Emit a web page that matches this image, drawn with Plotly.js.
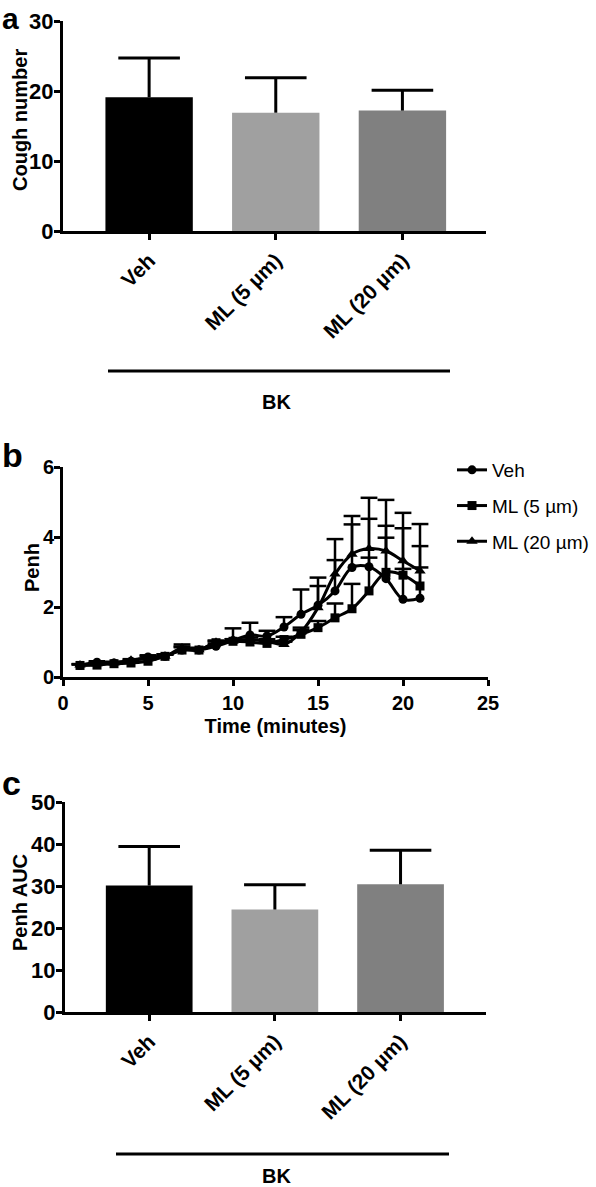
<!DOCTYPE html>
<html>
<head>
<meta charset="utf-8">
<script src="https://cdn.plot.ly/plotly-3.0.1.min.js"></script>
<style>html,body{margin:0;padding:0;background:#fff;}#chart{width:596px;height:1187px;}</style>
</head>
<body>
<div id="chart"></div>
<script>
// ---- Data ----
const groups = ["Veh", "ML (5 µm)", "ML (20 µm)"];
const groupColors = ["#000000", "#a0a0a0", "#808080"];

// Panel a: cough number
const coughMean = [19.1, 16.9, 17.2];
const coughErr  = [5.6, 5.0, 2.9];

// Panel b: Penh over time
const timeMin = [1,2,3,4,5,6,7,8,9,10,11,12,13,14,15,16,17,18,19,20,21];
const vehMean = [0.33,0.42,0.40,0.45,0.57,0.59,0.77,0.77,0.88,1.04,1.20,1.17,1.43,1.79,2.05,2.46,3.13,3.15,2.81,2.22,2.25];
const vehErr  = [0.03,0.03,0.03,0.04,0.05,0.06,0.08,0.06,0.08,0.35,0.35,0.15,0.28,0.71,0.79,0.88,1.23,1.37,1.17,0.87,0.88];
const ml5Mean = [0.33,0.34,0.38,0.40,0.45,0.59,0.77,0.77,0.98,1.02,1.00,0.96,1.07,1.22,1.41,1.69,1.95,2.46,2.99,2.91,2.60];
const ml5Err  = [0.03,0.03,0.03,0.03,0.05,0.05,0.10,0.05,0.05,0.06,0.06,0.06,0.08,0.12,0.19,0.41,0.71,0.95,1.33,1.34,1.14];
const ml20Mean = [0.34,0.38,0.40,0.48,0.55,0.59,0.83,0.78,0.99,1.02,1.07,1.02,0.93,1.28,1.98,2.94,3.51,3.67,3.60,3.32,3.03];
const ml20Err  = [0.03,0.03,0.03,0.03,0.05,0.05,0.10,0.05,0.05,0.06,0.06,0.06,0.08,0.13,0.62,1.00,1.09,1.45,1.46,1.37,1.34];

// Panel c: Penh AUC
const aucMean = [30.1, 24.4, 30.4];
const aucErr  = [9.3, 5.9, 8.1];

// ---- Helpers ----
const W = 596, H = 1187;
const px = v => v / W;
const py = v => 1 - v / H;
const zeros = n => new Array(n).fill(0);
const addArr = (a, b) => a.map((v, i) => v + b[i]);
const FONT = 'Liberation Sans, Arial, Helvetica, sans-serif';
const boldFont = (s) => ({family: FONT, size: s, color: '#000', weight: 700});

function barTrace(means, xa, ya) {
  return {
    type: 'bar', x: groups, y: means, xaxis: xa, yaxis: ya, width: 0.69,
    marker: {color: groupColors, line: {width: 0}},
    showlegend: false, hoverinfo: 'skip'
  };
}
// upper-only error bar: cap marker at mean+err, stem drawn downward to the mean
function upperErrTrace(xs, means, errs, xa, ya, capW, thick) {
  return {
    type: 'scatter', mode: 'markers', x: xs, y: addArr(means, errs), xaxis: xa, yaxis: ya,
    marker: {symbol: 'line-ew-open', size: capW, color: '#000', line: {color: '#000', width: thick}},
    error_y: {type: 'data', array: zeros(errs.length), arrayminus: errs, symmetric: false,
              color: '#000', thickness: thick, width: 0},
    showlegend: false, hoverinfo: 'skip'
  };
}
function lineTrace(name, means, symbol, msize) {
  return {
    type: 'scatter', mode: 'lines+markers', name: name, legendgroup: name,
    x: timeMin, y: means, xaxis: 'x2', yaxis: 'y2',
    line: {color: '#000', width: 3, shape: 'spline', smoothing: 1},
    marker: {symbol: symbol, size: msize, color: '#000'}
  };
}

const data = [
  barTrace(coughMean, 'x', 'y'),
  upperErrTrace(groups, coughMean, coughErr, 'x', 'y', 44, 3),
  upperErrTrace(timeMin, vehMean, vehErr, 'x2', 'y2', 12, 2.5),
  upperErrTrace(timeMin, ml5Mean, ml5Err, 'x2', 'y2', 12, 2.5),
  upperErrTrace(timeMin, ml20Mean, ml20Err, 'x2', 'y2', 12, 2.5),
  lineTrace(groups[0], vehMean, 'circle', 9),
  lineTrace(groups[1], ml5Mean, 'square', 9),
  lineTrace(groups[2], ml20Mean, 'triangle-up', 10),
  barTrace(aucMean, 'x3', 'y3'),
  upperErrTrace(groups, aucMean, aucErr, 'x3', 'y3', 44, 3)
];

const axCommon = {
  showline: true, linewidth: 3, linecolor: '#000', ticks: 'outside', ticklen: 6, tickwidth: 3,
  tickcolor: '#000', showgrid: false, zeroline: false, tickfont: boldFont(20), fixedrange: true
};
const yCommon = Object.assign({}, axCommon, {ticklabelstandoff: -4});

function yTitle(text, x, y) {
  return {text: text, xref: 'paper', yref: 'paper', x: px(x), y: py(y), xanchor: 'center', yanchor: 'middle',
          textangle: -90, showarrow: false, font: boldFont(20)};
}

const layout = {
  width: W, height: H, margin: {l: 0, r: 0, t: 0, b: 0},
  paper_bgcolor: '#fff', plot_bgcolor: '#fff',
  font: {family: FONT, size: 20, color: '#000'},
  showlegend: true,
  legend: {x: px(452), y: py(451), xanchor: 'left', yanchor: 'top',
           font: {family: FONT, size: 19, color: '#000', weight: 400},
           traceorder: 'grouped', tracegroupgap: 8, bgcolor: 'rgba(0,0,0,0)', itemwidth: 30},
  xaxis: Object.assign({}, axCommon, {domain: [px(63), px(486)], anchor: 'y', type: 'category',
          range: [-0.68, 2.66], tickangle: -45, tickfont: boldFont(21)}),
  yaxis: Object.assign({}, yCommon, {domain: [py(231), py(21)], anchor: 'x', range: [0, 30],
          tickvals: [0, 10, 20, 30], tickfont: boldFont(22)}),
  xaxis2: Object.assign({}, axCommon, {domain: [px(63), px(488)], anchor: 'y2', range: [0, 25],
          tickvals: [0, 5, 10, 15, 20, 25], title: {text: 'Time (minutes)', font: boldFont(20), standoff: 6}}),
  yaxis2: Object.assign({}, yCommon, {domain: [py(677), py(467)], anchor: 'x2', range: [0, 6],
          tickvals: [0, 2, 4, 6]}),
  xaxis3: Object.assign({}, axCommon, {domain: [px(65), px(486)], anchor: 'y3', type: 'category',
          range: [-0.67, 2.68], tickangle: -45, tickfont: boldFont(21)}),
  yaxis3: Object.assign({}, yCommon, {domain: [py(1012), py(802)], anchor: 'x3', range: [0, 50],
          tickvals: [0, 10, 20, 30, 40, 50], tickfont: boldFont(22)}),
  shapes: [
    {type: 'line', xref: 'paper', yref: 'paper', x0: px(108), x1: px(450), y0: py(371), y1: py(371),
     line: {color: '#000', width: 3}},
    {type: 'line', xref: 'paper', yref: 'paper', x0: px(116), x1: px(449), y0: py(1154), y1: py(1154),
     line: {color: '#000', width: 3}}
  ],
  annotations: [
    yTitle('Cough number', 20, 120),
    yTitle('Penh', 32, 568),
    yTitle('Penh AUC', 20, 903),
    {text: 'BK', xref: 'paper', yref: 'paper', x: px(276), y: py(402), xanchor: 'center', yanchor: 'middle',
     showarrow: false, font: boldFont(20)},
    {text: 'BK', xref: 'paper', yref: 'paper', x: px(276), y: py(1176), xanchor: 'center', yanchor: 'middle',
     showarrow: false, font: boldFont(20)},
    {text: 'a', xref: 'paper', yref: 'paper', x: px(0), y: py(0), xanchor: 'left', yanchor: 'top',
     showarrow: false, font: boldFont(30)},
    {text: 'b', xref: 'paper', yref: 'paper', x: px(0), y: py(434), xanchor: 'left', yanchor: 'top',
     showarrow: false, font: boldFont(34)},
    {text: 'c', xref: 'paper', yref: 'paper', x: px(0), y: py(762), xanchor: 'left', yanchor: 'top',
     showarrow: false, font: boldFont(34)}
  ]
};

Plotly.newPlot('chart', data, layout, {staticPlot: true, displayModeBar: false});
</script>
</body>
</html>
